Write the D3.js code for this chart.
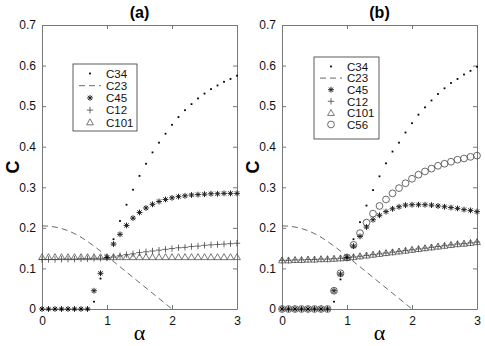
<!DOCTYPE html>
<html>
<head>
<meta charset="utf-8">
<script src="https://cdn.jsdelivr.net/npm/d3@7"></script>
<style>
  body { margin: 0; background: #fff; }
  svg { display: block; font-family: "Liberation Sans", Arial, sans-serif; }
</style>
</head>
<body>
<svg id="chart"></svg>
<script>
// alpha grid shared by all marker series
var alphaGrid = [0, 0.1, 0.2, 0.3, 0.4, 0.5, 0.6, 0.7, 0.8, 0.9, 1.0, 1.1, 1.2, 1.3, 1.4, 1.5,
  1.6, 1.7, 1.8, 1.9, 2.0, 2.1, 2.2, 2.3, 2.4, 2.5, 2.6, 2.7, 2.8, 2.9, 3.0];
var c23Alpha = [0, 0.2, 0.4, 0.6, 0.8, 1.0, 1.2, 1.4, 1.6, 1.8, 2.0];

// panel (a)
var a_C34 = [0, 0, 0, 0, 0, 0, 0, 0, 0.018, 0.075, 0.127, 0.172, 0.217, 0.257, 0.294, 0.328,
  0.358, 0.386, 0.41, 0.432, 0.454, 0.473, 0.49, 0.505, 0.519, 0.531, 0.542, 0.551, 0.56, 0.567, 0.575];
var a_C23 = [0.205, 0.202, 0.193, 0.177, 0.155, 0.13, 0.104, 0.078, 0.052, 0.026, 0];
var a_C45 = [0, 0, 0, 0, 0, 0, 0, 0, 0.045, 0.088, 0.127, 0.16, 0.184, 0.206, 0.224, 0.238,
  0.249, 0.258, 0.265, 0.27, 0.274, 0.277, 0.279, 0.281, 0.282, 0.283, 0.284, 0.284, 0.285, 0.285, 0.285];
var a_C12 = [0.122, 0.122, 0.122, 0.123, 0.123, 0.123, 0.124, 0.124, 0.125, 0.125, 0.126, 0.128,
  0.131, 0.134, 0.136, 0.139, 0.141, 0.143, 0.145, 0.147, 0.149, 0.151, 0.152, 0.154, 0.155, 0.157,
  0.158, 0.159, 0.16, 0.161, 0.162];
var a_C101 = [0.128, 0.128, 0.128, 0.128, 0.128, 0.128, 0.128, 0.128, 0.128, 0.128, 0.128, 0.128,
  0.128, 0.128, 0.128, 0.128, 0.128, 0.128, 0.128, 0.128, 0.128, 0.128, 0.128, 0.128, 0.128, 0.128,
  0.128, 0.128, 0.128, 0.128, 0.128];

// panel (b)
var b_C34 = [0, 0, 0, 0, 0, 0, 0, 0, 0.018, 0.073, 0.127, 0.172, 0.214, 0.255, 0.293, 0.327,
  0.359, 0.388, 0.41, 0.435, 0.458, 0.479, 0.497, 0.514, 0.53, 0.544, 0.557, 0.567, 0.578, 0.587, 0.597];
var b_C23 = [0.205, 0.202, 0.193, 0.177, 0.155, 0.13, 0.104, 0.078, 0.052, 0.026, 0];
var b_C45 = [0, 0, 0, 0, 0, 0, 0, 0, 0.045, 0.086, 0.127, 0.155, 0.179, 0.202, 0.22, 0.231,
  0.24, 0.247, 0.252, 0.256, 0.257, 0.257, 0.257, 0.256, 0.254, 0.252, 0.25, 0.248, 0.245, 0.243, 0.24];
var b_C12 = [0.12, 0.12, 0.121, 0.121, 0.122, 0.122, 0.123, 0.123, 0.124, 0.125, 0.126, 0.128,
  0.13, 0.132, 0.134, 0.136, 0.138, 0.14, 0.142, 0.144, 0.146, 0.148, 0.15, 0.152, 0.154, 0.156,
  0.158, 0.16, 0.161, 0.163, 0.165];
var b_C101 = [0.12, 0.12, 0.121, 0.121, 0.122, 0.122, 0.123, 0.123, 0.124, 0.125, 0.126, 0.128,
  0.13, 0.132, 0.134, 0.136, 0.138, 0.14, 0.142, 0.144, 0.146, 0.148, 0.15, 0.152, 0.154, 0.156,
  0.158, 0.16, 0.161, 0.163, 0.165];
var b_C56 = [0, 0, 0, 0, 0, 0, 0, 0, 0.045, 0.088, 0.127, 0.158, 0.187, 0.213, 0.235, 0.254,
  0.27, 0.285, 0.298, 0.31, 0.321, 0.331, 0.339, 0.346, 0.353, 0.358, 0.363, 0.368, 0.371, 0.375, 0.378];

var xTicks = [0, 1, 2, 3];
var yTicks = [0, 0.1, 0.2, 0.3, 0.4, 0.5, 0.6, 0.7];

var W = 485, H = 346;
var ink = "#222", axisCol = "#777";

var svg = d3.select("#chart").attr("width", W).attr("height", H);

// marker drawing, MATLAB-ish
function drawMarker(g, kind, x, y) {
  if (kind == "dot") {
    g.append("rect").attr("x", x - 0.9).attr("y", y - 0.9).attr("width", 1.8).attr("height", 1.8).attr("fill", "#000");
  } else if (kind == "star") {
    var r = 2.9, d = r * 0.72;
    g.append("path")
      .attr("d", `M${x - r},${y}L${x + r},${y}M${x},${y - r}L${x},${y + r}M${x - d},${y - d}L${x + d},${y + d}M${x - d},${y + d}L${x + d},${y - d}`)
      .attr("stroke", ink).attr("stroke-width", 1).attr("fill", "none");
  } else if (kind == "plus") {
    var p = 3.2;
    g.append("path")
      .attr("d", `M${x - p},${y}L${x + p},${y}M${x},${y - p}L${x},${y + p}`)
      .attr("stroke", "#444").attr("stroke-width", 0.8).attr("fill", "none");
  } else if (kind == "tri") {
    var t = 3.4;
    g.append("path")
      .attr("d", `M${x},${y - t}L${x + t},${y + t * 0.75}L${x - t},${y + t * 0.75}Z`)
      .attr("stroke", "#555").attr("stroke-width", 0.8).attr("fill", "none");
  } else if (kind == "circ") {
    g.append("circle").attr("cx", x).attr("cy", y).attr("r", 3.4)
      .attr("stroke", "#444").attr("stroke-width", 0.8).attr("fill", "none");
  }
}

var panels = [
  {
    title: "(a)", left: 42, right: 237, ylab: 13,
    legend: { x: 73, y: 64, w: 64, h: 67, step: 12.2, font: 11.5 },
    series: [
      { name: "C34", kind: "dot", vals: a_C34 },
      { name: "C23", kind: "dash", vals: a_C23 },
      { name: "C45", kind: "star", vals: a_C45 },
      { name: "C12", kind: "plus", vals: a_C12 },
      { name: "C101", kind: "tri", vals: a_C101 }
    ]
  },
  {
    title: "(b)", left: 282, right: 477, ylab: 253,
    legend: { x: 314, y: 57, w: 65, h: 82, step: 11.6, font: 11.5 },
    series: [
      { name: "C34", kind: "dot", vals: b_C34 },
      { name: "C23", kind: "dash", vals: b_C23 },
      { name: "C45", kind: "star", vals: b_C45 },
      { name: "C12", kind: "plus", vals: b_C12 },
      { name: "C101", kind: "tri", vals: b_C101 },
      { name: "C56", kind: "circ", vals: b_C56 }
    ]
  }
];

var plotTop = 25, plotBottom = 309;

panels.forEach(function (p) {
  var x = d3.scaleLinear().domain([0, 3]).range([p.left, p.right]);
  var y = d3.scaleLinear().domain([0, 0.7]).range([plotBottom, plotTop]);
  var g = svg.append("g");

  // axes box with inward ticks
  g.append("g").attr("transform", `translate(0,${plotBottom})`)
    .call(d3.axisBottom(x).tickValues(xTicks).tickSizeInner(-4).tickSizeOuter(0).tickPadding(7).tickFormat(d3.format("d")));
  g.append("g").attr("transform", `translate(0,${plotTop})`)
    .call(d3.axisTop(x).tickValues(xTicks).tickSizeInner(-4).tickSizeOuter(0).tickFormat(""));
  g.append("g").attr("transform", `translate(${p.left},0)`)
    .call(d3.axisLeft(y).tickValues(yTicks).tickSizeInner(-4).tickSizeOuter(0).tickPadding(6).tickFormat(d => d == 0 ? "0" : d3.format(".1f")(d)));
  g.append("g").attr("transform", `translate(${p.right},0)`)
    .call(d3.axisRight(y).tickValues(yTicks).tickSizeInner(-4).tickSizeOuter(0).tickFormat(""));
  g.selectAll(".domain, .tick line").attr("stroke", axisCol);
  g.selectAll(".tick text").attr("font-size", 12).attr("fill", "#111")
    .attr("font-family", "Liberation Sans, Arial, sans-serif");

  // data
  var plot = g.append("g");
  p.series.slice().reverse().forEach(function (s) {
    if (s.kind == "dash") {
      var line = d3.line().x((d, i) => x(c23Alpha[i])).y(d => y(d)).curve(d3.curveMonotoneX);
      plot.append("path").attr("d", line(s.vals)).attr("fill", "none")
        .attr("stroke", "#444").attr("stroke-width", 0.8).attr("stroke-dasharray", "6,4");
    } else {
      s.vals.forEach(function (v, i) { drawMarker(plot, s.kind, x(alphaGrid[i]), y(v)); });
    }
  });

  // legend
  var L = p.legend;
  var lg = g.append("g");
  lg.append("rect").attr("x", L.x).attr("y", L.y).attr("width", L.w).attr("height", L.h)
    .attr("fill", "#fff").attr("stroke", "#333").attr("stroke-width", 0.8);
  p.series.forEach(function (s, i) {
    var cy = L.y + 9.5 + i * L.step, mx = L.x + 17;
    if (s.kind == "dash") {
      lg.append("line").attr("x1", mx - 11).attr("x2", mx + 11).attr("y1", cy).attr("y2", cy)
        .attr("stroke", "#444").attr("stroke-width", 0.8).attr("stroke-dasharray", "6,4");
    } else {
      drawMarker(lg, s.kind, mx, cy);
    }
    lg.append("text").attr("x", L.x + 33).attr("y", cy + 4.2).attr("font-size", L.font).attr("fill", "#111").text(s.name);
  });

  // titles
  svg.append("text").attr("x", (p.left + p.right) / 2).attr("y", 18).attr("text-anchor", "middle")
    .attr("font-size", 16).attr("font-weight", "bold").text(p.title);
  svg.append("text").attr("transform", `translate(${p.ylab + 6},${(plotTop + plotBottom) / 2}) rotate(-90)`)
    .attr("text-anchor", "middle").attr("font-size", 18).attr("font-weight", "bold").text("C");
  svg.append("text").attr("x", (p.left + p.right) / 2).attr("y", 340).attr("text-anchor", "middle")
    .attr("font-size", 22).attr("font-family", "Liberation Serif, serif").text("α");
});
</script>
</body>
</html>
